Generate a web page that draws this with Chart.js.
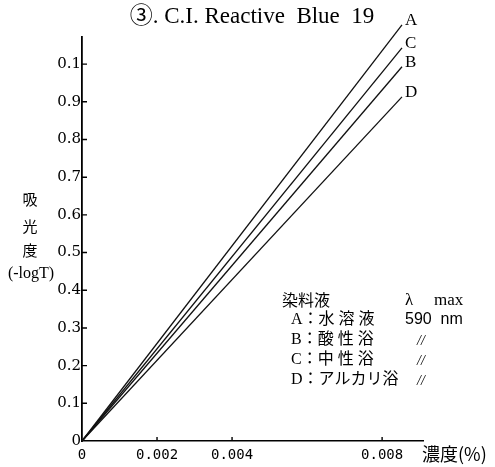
<!doctype html>
<html>
<head>
<meta charset="utf-8">
<title>C.I. Reactive Blue 19</title>
<script src="https://cdn.jsdelivr.net/npm/chart.js@4/dist/chart.umd.min.js"></script>
<style>
  body { margin: 0; background: #fff; }
  canvas { display: block; }
</style>
</head>
<body>
<canvas id="canvas" width="495" height="467"></canvas>
<script>
// data
var concentration = [0, 0.00853];
var seriesA = [0, 1.104];
var seriesB = [0, 0.993];
var seriesC = [0, 1.043];
var seriesD = [0, 0.913];
var seriesNames = ['A', 'B', 'C', 'D'];

var yTicks = [0, 0.1, 0.2, 0.3, 0.4, 0.5, 0.6, 0.7, 0.8, 0.9, 1.0];
var yTickLabels = ['0', '0.1', '0.2', '0.3', '0.4', '0.5', '0.6', '0.7', '0.8', '0.9', '0.1'];
var xTicks = [0, 0.002, 0.004, 0.008];
var xTickLabels = ['0', '0.002', '0.004', '0.008'];

var legendHead = ['染料液', 'λ', 'max'];
var legendRows = [
  ['A：水 溶 液', '590  nm'],
  ['B：酸 性 浴', '//'],
  ['C：中 性 浴', '//'],
  ['D：アルカリ浴', '//']
];

var serif = '"Liberation Serif", "DejaVu Serif", "Noto Sans CJK JP", serif';
var ink = '#000';

function pts(ys) {
  return concentration.map(function (x, i) { return { x: x, y: ys[i] }; });
}

var allSeries = [seriesA, seriesB, seriesC, seriesD];
var datasets = allSeries.map(function (s, i) {
  return {
    label: seriesNames[i],
    data: pts(s),
    borderColor: '#111',
    borderWidth: 1.3,
    pointRadius: 0,
    fill: false,
    tension: 0,
    clip: false
  };
});

var decor = {
  id: 'decor',
  afterDraw: function (chart) {
    var ctx = chart.ctx;
    var xs = chart.scales.x, ys = chart.scales.y;
    ctx.save();
    ctx.fillStyle = ink;
    ctx.strokeStyle = ink;

    // inward tick marks
    ctx.lineWidth = 1.4;
    ctx.beginPath();
    ys.ticks.forEach(function (t) {
      if (t.value === 0) return;
      var y = ys.getPixelForValue(t.value);
      ctx.moveTo(xs.left, y); ctx.lineTo(xs.left + 5, y);
    });
    xs.ticks.forEach(function (t) {
      if (t.value === 0) return;
      var x = xs.getPixelForValue(t.value);
      ctx.moveTo(x, ys.bottom); ctx.lineTo(x, ys.bottom - 4);
    });
    ctx.stroke();

    // title
    ctx.font = '23px ' + serif;
    ctx.textAlign = 'center';
    ctx.textBaseline = 'middle';
    ctx.fillText('③. C.I. Reactive  Blue  19', 252, 17);

    // y axis label
    ctx.font = '15px "Noto Sans CJK JP", serif';
    ctx.fillText('吸', 30, 199);
    ctx.fillText('光', 30, 226);
    ctx.fillText('度', 30, 250);
    ctx.font = '16px ' + serif;
    ctx.fillText('(-logT)', 31, 274);

    // x axis label
    ctx.textAlign = 'left';
    ctx.font = '18px "Noto Sans CJK JP", serif';
    ctx.fillText('濃度(%)', 422, 454);

    // end-of-line labels
    ctx.font = '17px ' + serif;
    chart.data.datasets.forEach(function (ds, i) {
      var meta = chart.getDatasetMeta(i);
      var last = meta.data[meta.data.length - 1];
      ctx.fillText(ds.label, last.x + 3, last.y - 4);
    });

    // legend block
    ctx.font = '16px "Noto Sans CJK JP", serif';
    ctx.fillText(legendHead[0], 282, 300);
    ctx.font = '17px ' + serif;
    ctx.fillText(legendHead[1], 405, 301);
    ctx.fillText(legendHead[2], 434, 301);
    legendRows.forEach(function (r, i) {
      var y = 320 + i * 20;
      ctx.font = '16px ' + serif + ', "Noto Sans CJK JP"';
      ctx.fillText(r[0], 291, y);
      if (r[1] === '//') {
        ctx.font = 'italic 14px ' + serif;
        ctx.fillText(r[1], 417, y + 1);
      } else {
        ctx.font = '16px "Liberation Sans", sans-serif';
        ctx.fillText(r[1], 405, y);
      }
    });
    ctx.restore();
  }
};

new Chart(document.getElementById('canvas').getContext('2d'), {
  type: 'line',
  data: { datasets: datasets },
  options: {
    responsive: false,
    animation: false,
    layout: { padding: { top: 37, right: 72, left: 0, bottom: 0 } },
    plugins: { legend: { display: false }, tooltip: { enabled: false }, title: { display: false } },
    scales: {
      x: {
        type: 'linear',
        min: 0,
        max: 0.00909,
        afterFit: function (s) { s.height = 26; },
        afterBuildTicks: function (s) { s.ticks = xTicks.map(function (v) { return { value: v }; }); },
        grid: { drawOnChartArea: false, drawTicks: false },
        border: { display: true, color: ink, width: 1.5 },
        ticks: {
          padding: 6,
          color: ink,
          font: { family: '"DejaVu Sans Mono", monospace', size: 14 },
          maxRotation: 0,
          autoSkip: false,
          callback: function (v, i) { return xTickLabels[i]; }
        }
      },
      y: {
        min: 0,
        max: 1.072,
        afterFit: function (s) { s.width = 82; },
        afterBuildTicks: function (s) { s.ticks = yTicks.map(function (v) { return { value: v }; }); },
        grid: { drawOnChartArea: false, drawTicks: false },
        border: { display: true, color: ink, width: 1.8 },
        ticks: {
          padding: 1,
          color: ink,
          font: { family: '"DejaVu Serif", serif', size: 15 },
          autoSkip: false,
          callback: function (v, i) { return yTickLabels[i]; }
        }
      }
    }
  },
  plugins: [decor]
});
</script>
</body>
</html>
